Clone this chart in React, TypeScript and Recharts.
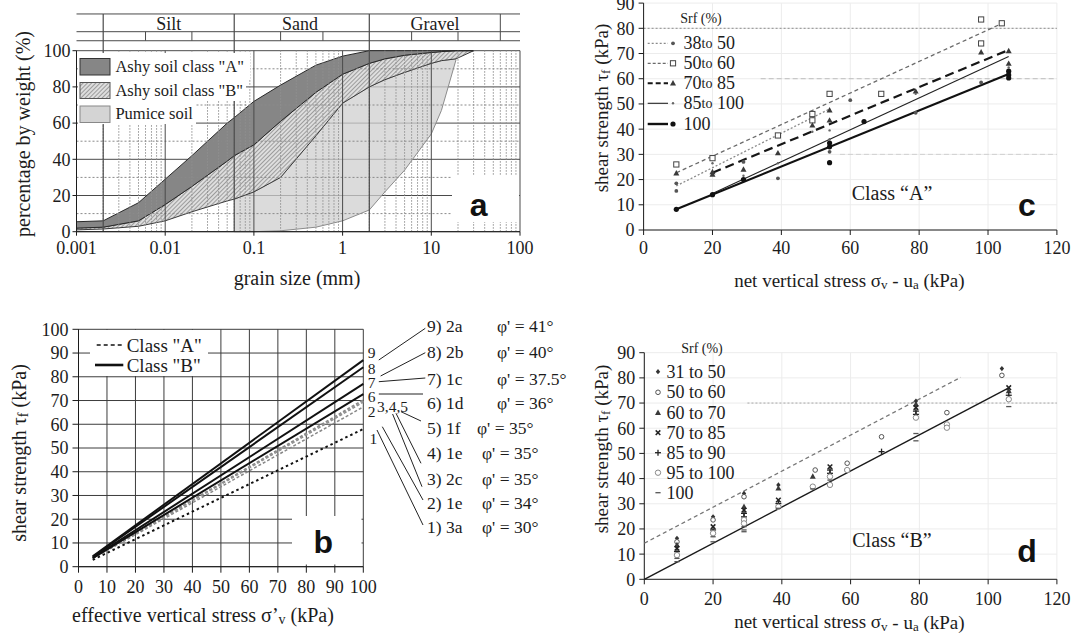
import React from "react";
import {
  ComposedChart,
  LineChart,
  Line,
  Area,
  Scatter,
  XAxis,
  YAxis,
  CartesianGrid,
  ReferenceLine,
  ReferenceDot,
} from "recharts";

const SERIF = '"Liberation Serif", "Times New Roman", serif';
const SANS = '"Liberation Sans", Arial, sans-serif';
const INK = "#1c1c1c";

// ---- (a) grading envelopes, grain size (mm) vs % passing
const GRAIN_MM = [0.001, 0.002, 0.005, 0.01, 0.02, 0.05, 0.06, 0.1, 0.2, 0.5, 1, 2, 3, 5, 10, 13, 19, 30];
const CLASS_A_UPPER = [5.5, 6, 16, 29, 42, 60, 63, 72, 81, 92, 97, 100, 100, 100, 100, 100, 100, 100];
const CLASS_A_LOWER = [2, 2.5, 6, 15, 25, 39, 42, 48, 61, 77, 87, 93, 95.5, 97.5, 99, 99.5, 100, 100];
const CLASS_B_LOWER = [1, 1.5, 3, 6, 11, 17, 18, 22, 30, 53, 71, 80, 84, 88, 93, 94.5, 95.5, 100];
const PUMICE_LOWER = [null, null, null, null, null, null, 0, 0, 0.5, 2.5, 6, 12, 22, 34, 54, 67, 95, null];

const DECADES = [0.001, 0.01, 0.1, 1, 10, 100];
const MINOR_MM = DECADES.slice(0, -1).flatMap((d) => [2, 3, 4, 5, 6, 7, 8, 9].map((k) => k * d));
const PCT_TICKS = [0, 20, 40, 60, 80, 100];
const PCT_MINOR = [10, 30, 50, 70, 90];

const FRACTIONS = ["Silt", "Sand", "Gravel"];
const FRACTION_MID_MM = [0.011, 0.33, 11];
const FRACTION_LIMITS_MM = [0.002, 0.06, 2];
const FRACTION_SUBDIV_MM = [0.006, 0.02, 0.2, 0.6, 6, 20];
// header band sits above the 100 % line
const HEAD_TOP = 120.3;
const HEAD_MID = 110.5;
const HEAD_BASE = 105.5;
const HEAD_TEXT = 115.1;

// ---- (b) failure envelopes
const B_STRESS = [5, 100];
const B_LINE_1 = [2.9, 58];
const B_LINE_2 = [3.4, 67.3];
const B_LINE_3 = [3.5, 69.3];
const B_LINE_4 = [3.5, 69.8];
const B_LINE_5 = [3.5, 70.3];
const B_LINE_6 = [3.6, 72.7];
const B_LINE_7 = [3.8, 77];
const B_LINE_8 = [4.2, 84];
const B_LINE_9 = [4.4, 87];
const B_TICKS = [0, 10, 20, 30, 40, 50, 60, 70, 80, 90, 100];

const B_NOTES = ["9) 2a", "8) 2b", "7) 1c", "6) 1d", "5) 1f", "4) 1e", "3) 2c", "2) 1e", "1) 3a"];
const B_PHI = ["41°", "40°", "37.5°", "36°", "35°", "35°", "35°", "34°", "30°"];

// ---- (c) class A, net vertical stress vs shear strength
const C_SRF_38_50 = [[9.5, 15.5], [9.5, 18.5], [29, 27], [39, 20.5], [54, 31], [60, 51.5], [79, 46.5], [98, 58.5]];
const C_SRF_50_60 = [[9.5, 26], [20, 28.5], [39, 37.5], [49, 46], [49, 43.5], [54, 54], [69, 54], [98, 83.5], [98, 74], [104, 82]];
const C_SRF_70_85 = [[9.5, 22.5], [20, 23], [20, 22], [29, 24], [39, 30.5], [49, 41.5], [54, 47.5], [54, 43.5], [79, 55], [98, 70.5], [106, 71], [106, 66]];
const C_SRF_85_100 = [[20, 26.5], [29, 21.5], [39, 26.5], [49, 39], [54, 39.5], [54, 36], [79, 54], [106, 64.5]];
const C_SRF_100 = [[9.5, 8.2], [20, 14], [29, 20], [54, 34.5], [54, 33], [54, 26.7], [64, 43], [106, 63], [106, 61.5], [106, 60.3]];

const C_FIT_38_50 = [[9.5, 17.5], [54, 48]];
const C_FIT_50_60 = [[9.5, 22.7], [104.5, 82.2]];
const C_FIT_70_85 = [[20, 22.7], [106, 71.4]];
const C_FIT_85_100 = [[20, 14.5], [106, 68.8]];
const C_FIT_100 = [[9.5, 8.2], [106, 61.9]];

// ---- (d) class B
const D_SRF_31_50 = [[9.5, 16.3], [20, 24.8], [29, 34.1], [39, 37.5], [79, 70.8], [104, 83.7]];
const D_SRF_50_60 = [[9.5, 14.9], [20, 23.6], [29, 32.8], [49.7, 43.4], [59, 46.1], [69, 56.6], [88, 66.2], [104, 81]];
const D_SRF_60_70 = [[9.5, 13.6], [29, 28.8], [39, 36.1], [49, 40.8], [79, 69.5], [106, 74.8]];
const D_SRF_70_85 = [[9.5, 12.3], [20, 20.9], [29, 27.5], [39, 31.5], [54, 44.7], [79, 68.2], [106, 76.1]];
const D_SRF_85_90 = [[9.5, 11], [20, 19.6], [29, 26.2], [29, 24.8], [39, 30.1], [54, 43.4], [54, 42.1], [69, 50.7], [79, 66.8], [79, 65.5], [106, 73.1]];
const D_SRF_95_100 = [[9.5, 9.6], [20, 18.3], [29, 23.6], [29, 22.2], [39, 28.8], [49, 36.8], [54, 40.8], [54, 37.5], [59, 43.4], [79, 64.2], [88, 61.5], [88, 60.2], [106, 71.5]];
const D_SRF_100 = [[9.5, 8.3], [9.5, 7], [20, 16.9], [20, 14.9], [29, 20.9], [29, 19.6], [29, 18.9], [39, 28.2], [49, 35.9], [54, 39.4], [79, 57.9], [79, 55], [106, 68.6]];

const D_FIT_LOWER = [[0, 0], [106, 76]];
const D_FIT_UPPER = [[0, 14.3], [92, 80.2]];

const STRESS_TICKS = [0, 20, 40, 60, 80, 100, 120];
const SHEAR_TICKS = [0, 10, 20, 30, 40, 50, 60, 70, 80, 90];

const toXY = (pts) => pts.map(([x, y]) => ({ x, y }));

const gradingRows = GRAIN_MM.map((d, i) => ({
  d,
  classA: [CLASS_A_LOWER[i], CLASS_A_UPPER[i]],
  classB: [CLASS_B_LOWER[i], CLASS_A_LOWER[i]],
  pumice: PUMICE_LOWER[i] === null ? null : [PUMICE_LOWER[i], CLASS_B_LOWER[i]],
}));

const frictionRows = B_STRESS.map((s, i) => ({
  s,
  l1: B_LINE_1[i],
  l2: B_LINE_2[i],
  l3: B_LINE_3[i],
  l4: B_LINE_4[i],
  l5: B_LINE_5[i],
  l6: B_LINE_6[i],
  l7: B_LINE_7[i],
  l8: B_LINE_8[i],
  l9: B_LINE_9[i],
}));

const tickFont = { fontSize: 18, fill: INK, fontFamily: SERIF };

function Marker({ kind, cx, cy }) {
  if (cx == null || cy == null) return <g />;
  switch (kind) {
    case "dot":
      return <circle cx={cx} cy={cy} r={1.9} fill="#555" />;
    case "tiny":
      return <circle cx={cx} cy={cy} r={1.2} fill="#666" />;
    case "disc":
      return <circle cx={cx} cy={cy} r={2.6} fill="#111" />;
    case "square":
      return <rect x={cx - 2.6} y={cy - 2.6} width={5.2} height={5.2} fill="#fff" stroke="#444" strokeWidth={1} />;
    case "triangle":
      return <polygon points={`${cx},${cy - 3.2} ${cx - 3},${cy + 2.2} ${cx + 3},${cy + 2.2}`} fill="#3a3a3a" />;
    case "diamond":
      return <polygon points={`${cx},${cy - 2.6} ${cx - 2.2},${cy} ${cx},${cy + 2.6} ${cx + 2.2},${cy}`} fill="#333" />;
    case "ring":
      return <circle cx={cx} cy={cy} r={2.3} fill="#fff" stroke="#555" strokeWidth={1} />;
    case "ringGray":
      return <circle cx={cx} cy={cy} r={2.7} fill="#fff" stroke="#8a8a8a" strokeWidth={1} />;
    case "ex":
      return (
        <g stroke="#222" strokeWidth={1.5}>
          <line x1={cx - 2.3} y1={cy - 2.3} x2={cx + 2.3} y2={cy + 2.3} />
          <line x1={cx - 2.3} y1={cy + 2.3} x2={cx + 2.3} y2={cy - 2.3} />
        </g>
      );
    case "plus":
      return (
        <g stroke="#222" strokeWidth={1.3}>
          <line x1={cx - 3} y1={cy} x2={cx + 3} y2={cy} />
          <line x1={cx} y1={cy - 3} x2={cx} y2={cy + 3} />
        </g>
      );
    case "dash":
      return <line x1={cx - 2.6} y1={cy} x2={cx + 2.6} y2={cy} stroke="#555" strokeWidth={1.3} />;
    default:
      return <g />;
  }
}

const markerShape = (kind) => (p) => <Marker kind={kind} cx={p.cx} cy={p.cy} />;
const noMarker = () => <g />;

const C_SERIES = [
  { name: "38 to 50", pts: C_SRF_38_50, marker: "dot" },
  { name: "50 to 60", pts: C_SRF_50_60, marker: "square" },
  { name: "70 to 85", pts: C_SRF_70_85, marker: "triangle" },
  { name: "85 to 100", pts: C_SRF_85_100, marker: "tiny" },
  { name: "100", pts: C_SRF_100, marker: "disc" },
];
const C_FITS = [
  { pts: C_FIT_38_50, stroke: "#8a8a8a", width: 1.3, dash: "2 2" },
  { pts: C_FIT_50_60, stroke: "#6a6a6a", width: 1.3, dash: "4 3" },
  { pts: C_FIT_70_85, stroke: "#161616", width: 2.2, dash: "9 5" },
  { pts: C_FIT_85_100, stroke: "#222", width: 1.1, dash: undefined },
  { pts: C_FIT_100, stroke: "#111", width: 2.2, dash: undefined },
];
const D_SERIES = [
  { name: "31 to 50", pts: D_SRF_31_50, marker: "diamond" },
  { name: "50 to 60", pts: D_SRF_50_60, marker: "ring" },
  { name: "60 to 70", pts: D_SRF_60_70, marker: "triangle" },
  { name: "70 to 85", pts: D_SRF_70_85, marker: "ex" },
  { name: "85 to 90", pts: D_SRF_85_90, marker: "plus" },
  { name: "95 to 100", pts: D_SRF_95_100, marker: "ringGray" },
  { name: "100", pts: D_SRF_100, marker: "dash" },
];
const D_FITS = [
  { pts: D_FIT_LOWER, stroke: "#1a1a1a", width: 1.4, dash: undefined },
  { pts: D_FIT_UPPER, stroke: "#777", width: 1.3, dash: "4 3" },
];

function GradingChart() {
  const grid = "#4a4a4a";
  return (
    <ComposedChart width={540} height={300} data={gradingRows} margin={{ top: 50.7, right: 20, bottom: 38.3, left: 16.5 }}>
      <defs>
        <pattern id="hatchB" width="3" height="3" patternUnits="userSpaceOnUse" patternTransform="rotate(45)">
          <rect width="3" height="3" fill="#dedede" />
          <line x1="0" y1="0" x2="0" y2="3" stroke="#707070" strokeWidth="1.2" />
        </pattern>
      </defs>
      <CartesianGrid vertical={false} stroke={grid} />
      <XAxis
        dataKey="d"
        type="number"
        scale="log"
        domain={[0.001, 100]}
        allowDataOverflow
        ticks={DECADES}
        interval={0}
        tickFormatter={(v) => String(v)}
        height={30}
        tickSize={4}
        tickMargin={6}
        tick={tickFont}
        stroke={INK}
      />
      <YAxis type="number" domain={[0, 100]} ticks={PCT_TICKS} interval={0} width={60} tickSize={4} tick={tickFont} stroke={INK} />
      {PCT_MINOR.map((y) => (
        <ReferenceLine key={`h${y}`} y={y} stroke="#8a8a8a" strokeDasharray="2 2" />
      ))}
      {MINOR_MM.map((x) => (
        <ReferenceLine key={`m${x}`} x={x} stroke="#909090" strokeDasharray="1.5 1.5" />
      ))}
      {DECADES.map((x) => (
        <ReferenceLine key={`d${x}`} x={x} stroke={grid} />
      ))}
      <Area type="linear" dataKey="pumice" stroke="#8c8c8c" strokeWidth={1} fill="#cfcfcf" fillOpacity={0.75} isAnimationActive={false} />
      <Area type="linear" dataKey="classB" stroke="#3a3a3a" strokeWidth={1} fill="url(#hatchB)" fillOpacity={1} isAnimationActive={false} />
      <Area type="linear" dataKey="classA" stroke="#2a2a2a" strokeWidth={1} fill="#868686" fillOpacity={1} isAnimationActive={false} />
      {FRACTION_LIMITS_MM.map((x) => (
        <ReferenceLine key={`fl${x}`} segment={[{ x, y: 0 }, { x, y: HEAD_TOP }]} stroke={grid} strokeWidth={1.2} ifOverflow="visible" />
      ))}
      <ReferenceLine segment={[{ x: 60, y: HEAD_BASE }, { x: 60, y: HEAD_TOP }]} stroke={grid} ifOverflow="visible" />
      {FRACTION_SUBDIV_MM.map((x) => (
        <ReferenceLine key={`fs${x}`} segment={[{ x, y: HEAD_BASE }, { x, y: HEAD_MID }]} stroke={grid} ifOverflow="visible" />
      ))}
      {[HEAD_TOP, HEAD_MID, HEAD_BASE].map((y) => (
        <ReferenceLine key={`hl${y}`} segment={[{ x: 0.001, y }, { x: 100, y }]} stroke={grid} ifOverflow="visible" />
      ))}
      {FRACTIONS.map((t, i) => (
        <ReferenceDot
          key={t}
          x={FRACTION_MID_MM[i]}
          y={HEAD_TEXT}
          r={0}
          fill="none"
          stroke="none"
          ifOverflow="visible"
          label={{ value: t, position: "center", fontSize: 18, fill: INK, fontFamily: SERIF }}
        />
      ))}
    </ComposedChart>
  );
}

const B_STYLES = [
  { key: "l1", stroke: "#111", width: 2, dash: "2.5 3" },
  { key: "l2", stroke: "#888", width: 1.5, dash: "3 2" },
  { key: "l3", stroke: "#8a8a8a", width: 1.5, dash: "3 2" },
  { key: "l4", stroke: "#999", width: 1.5, dash: "3 2" },
  { key: "l5", stroke: "#8a8a8a", width: 1.5, dash: "3 2" },
  { key: "l6", stroke: "#111", width: 2, dash: undefined },
  { key: "l7", stroke: "#111", width: 2, dash: undefined },
  { key: "l8", stroke: "#111", width: 2, dash: undefined },
  { key: "l9", stroke: "#111", width: 2, dash: undefined },
];

function FrictionChart() {
  return (
    <LineChart width={380} height={335} data={frictionRows} margin={{ top: 29.3, right: 16.7, bottom: 38.3, left: 18.5 }}>
      <CartesianGrid stroke="#3c3c3c" />
      <XAxis dataKey="s" type="number" domain={[0, 100]} ticks={B_TICKS} interval={0} height={30} tickSize={6} tickMargin={8} tick={tickFont} stroke={INK} />
      <YAxis type="number" domain={[0, 100]} ticks={B_TICKS} interval={0} width={60} tickSize={6} tickMargin={4} tick={tickFont} stroke={INK} />
      {B_STYLES.map((s) => (
        <Line
          key={s.key}
          type="linear"
          dataKey={s.key}
          stroke={s.stroke}
          strokeWidth={s.width}
          strokeDasharray={s.dash}
          dot={false}
          isAnimationActive={false}
        />
      ))}
    </LineChart>
  );
}

function ShearChart({ height, top, bottom, left, yMax, xTickMargin, series, fits, children }) {
  return (
    <ComposedChart width={536} height={height} margin={{ top, right: 19.1, bottom, left }}>
      <CartesianGrid stroke="#ececec" />
      <XAxis
        dataKey="x"
        type="number"
        domain={[0, 120]}
        ticks={STRESS_TICKS}
        interval={0}
        height={30}
        tickSize={5}
        tickMargin={xTickMargin}
        tick={tickFont}
        stroke={INK}
      />
      <YAxis dataKey="y" type="number" domain={[0, yMax]} ticks={SHEAR_TICKS} interval={0} width={40} tickSize={5} tickMargin={4} tick={tickFont} stroke={INK} />
      {children}
      {fits.map((f, i) => (
        <Scatter
          key={`fit${i}`}
          data={toXY(f.pts)}
          shape={noMarker}
          line={{ stroke: f.stroke, strokeWidth: f.width, strokeDasharray: f.dash }}
          legendType="none"
          isAnimationActive={false}
        />
      ))}
      {series.map((s) => (
        <Scatter key={s.name} name={s.name} data={toXY(s.pts)} shape={markerShape(s.marker)} isAnimationActive={false} />
      ))}
    </ComposedChart>
  );
}

const B_ROW_Y = [326, 351.7, 379.3, 403.3, 428.3, 453.3, 479.3, 503.3, 527.3];
const B_PHI_X = [497, 497, 497, 497, 477, 482, 482, 482, 482];
const B_LEADERS = [
  [378.8, 360, 425.3, 328.3],
  [380.6, 376, 425.3, 352.7],
  [378.8, 381.7, 425.3, 378],
  [378.8, 394, 423, 394],
  [401, 411.7, 421, 421],
  [396, 413.3, 421, 463.3],
  [392.6, 414, 422, 486.7],
  [382.3, 426.7, 423, 500],
  [377, 430, 423, 525],
];

const C_LEGEND = [
  { a: "38", b: "50", stroke: "#8a8a8a", width: 1.3, dash: "2 2", marker: "dot" },
  { a: "50", b: "60", stroke: "#6a6a6a", width: 1.3, dash: "3 2", marker: "square" },
  { a: "70", b: "85", stroke: "#161616", width: 2, dash: "5 3", marker: "triangle" },
  { a: "85", b: "100", stroke: "#222", width: 1.1, dash: undefined, marker: "tiny" },
  { a: "100", b: null, stroke: "#111", width: 2.4, dash: undefined, marker: "disc" },
];
const C_LEGEND_Y = [43.3, 63.3, 83.3, 103.3, 124];
const D_LEGEND_Y = [371.7, 392.3, 412.7, 432.7, 452.7, 472.7, 492.7];

function Overlay() {
  const t = { fontFamily: SERIF, fill: INK, dominantBaseline: "central" as const };
  return (
    <svg width={1076} height={635} style={{ position: "absolute", left: 0, top: 0, pointerEvents: "none" }}>
      <defs>
        <pattern id="hatchKey" width="3" height="3" patternUnits="userSpaceOnUse" patternTransform="rotate(45)">
          <rect width="3" height="3" fill="#dedede" />
          <line x1="0" y1="0" x2="0" y2="3" stroke="#707070" strokeWidth="1.2" />
        </pattern>
      </defs>

      {/* (a) */}
      <text {...t} fontSize={20} textAnchor="middle" transform="translate(23.4,134) rotate(-90)">
        percentage by weight (%)
      </text>
      <text {...t} fontSize={20} textAnchor="middle" x={297} y={278.3}>
        grain size (mm)
      </text>
      <rect x={78} y={53} width={172} height={26} fill="#fff" />
      <rect x={78} y={79} width={168} height={22} fill="#fff" />
      <rect x={78} y={101} width={118} height={23} fill="#fff" />
      <rect x={80} y={58.5} width={30} height={16.5} fill="#868686" stroke="#333" />
      <rect x={80} y={82.5} width={30} height={16} fill="url(#hatchKey)" stroke="#555" />
      <rect x={80} y={106} width={30} height={16.5} fill="#d4d4d4" stroke="#888" />
      <text {...t} fontSize={16.5} x={115.4} y={66.7}>Ashy soil class "A"</text>
      <text {...t} fontSize={16.5} x={115.4} y={90.7}>Ashy soil class "B"</text>
      <text {...t} fontSize={16.5} x={115.4} y={113.3}>Pumice soil</text>
      <rect x={452} y={176} width={67} height={46} fill="#fff" />
      <text x={478.7} y={205} textAnchor="middle" dominantBaseline="central" fontFamily={SANS} fontWeight="bold" fontSize={32} fill="#111">
        a
      </text>

      {/* (b) */}
      <text {...t} fontSize={20} textAnchor="middle" transform="translate(19,453) rotate(-90)">
        shear strength  τ<tspan fontSize={14} dy={4}>f</tspan>
        <tspan dy={-4}> (kPa)</tspan>
      </text>
      <text {...t} fontSize={20} textAnchor="middle" x={203} y={615}>
        effective vertical stress σ’<tspan fontSize={14} dy={4}>v</tspan>
        <tspan dy={-4}> (kPa)</tspan>
      </text>
      <rect x={90} y={330} width={118} height={46} fill="#fff" />
      <line x1={96.7} y1={345} x2={123.3} y2={345} stroke="#111" strokeWidth={1.6} strokeDasharray="4 3" />
      <text {...t} fontSize={19} x={126.7} y={345}>Class "A"</text>
      <line x1={95} y1={365} x2={123.3} y2={365} stroke="#111" strokeWidth={2.6} />
      <text {...t} fontSize={19} x={126.7} y={365}>Class "B"</text>
      <rect x={292} y={516} width={69.5} height={48.5} fill="#fff" />
      <text x={323.3} y={541.7} textAnchor="middle" dominantBaseline="central" fontFamily={SANS} fontWeight="bold" fontSize={32} fill="#111">
        b
      </text>
      <text {...t} fontSize={15.5} textAnchor="middle" x={371.7} y={352}>9</text>
      <text {...t} fontSize={15.5} textAnchor="middle" x={371.7} y={368}>8</text>
      <text {...t} fontSize={15.5} textAnchor="middle" x={371.7} y={382}>7</text>
      <text {...t} fontSize={15.5} textAnchor="middle" x={371.7} y={396.5}>6</text>
      <text {...t} fontSize={15.5} textAnchor="middle" x={371.7} y={411.5}>2</text>
      <text {...t} fontSize={15.5} x={377} y={406.5}>3,4,5</text>
      <text {...t} fontSize={15.5} textAnchor="middle" x={373.3} y={438.3}>1</text>
      {B_LEADERS.map(([x1, y1, x2, y2], i) => (
        <line key={`ld${i}`} x1={x1} y1={y1} x2={x2} y2={y2} stroke="#222" strokeWidth={1} />
      ))}
      {B_NOTES.map((n, i) => (
        <g key={n + i}>
          <text {...t} fontSize={17.5} x={427} y={B_ROW_Y[i]}>{n}</text>
          <text {...t} fontSize={17.5} x={B_PHI_X[i]} y={B_ROW_Y[i]}>φ' = {B_PHI[i]}</text>
        </g>
      ))}

      {/* (c) */}
      <text {...t} fontSize={19} textAnchor="middle" transform="translate(601,108) rotate(-90)">
        shear strength τ<tspan fontSize={13} dy={4}>f</tspan>
        <tspan dy={-4}> (kPa)</tspan>
      </text>
      <text {...t} fontSize={19} textAnchor="middle" x={849.4} y={280}>
        net vertical stress σ<tspan fontSize={13} dy={4}>v</tspan>
        <tspan dy={-4}> - u</tspan>
        <tspan fontSize={13} dy={4}>a</tspan>
        <tspan dy={-4}> (kPa)</tspan>
      </text>
      <text {...t} fontSize={14} textAnchor="middle" x={701} y={18.3}>Srf (%)</text>
      {C_LEGEND.map((r, i) => (
        <g key={`cl${i}`}>
          <line x1={647.7} y1={C_LEGEND_Y[i]} x2={668} y2={C_LEGEND_Y[i]} stroke={r.stroke} strokeWidth={r.width} strokeDasharray={r.dash} />
          <Marker kind={r.marker} cx={673} cy={C_LEGEND_Y[i]} />
          <text {...t} fontSize={18} x={683.6} y={C_LEGEND_Y[i]}>
            {r.a}
            {r.b ? (
              <>
                <tspan fontSize={14}>to</tspan> {r.b}
              </>
            ) : null}
          </text>
        </g>
      ))}
      <text {...t} fontSize={20} textAnchor="middle" x={892} y={193.3}>Class “A”</text>
      <text x={1027} y={205} textAnchor="middle" dominantBaseline="central" fontFamily={SANS} fontWeight="bold" fontSize={32} fill="#111">
        c
      </text>

      {/* (d) */}
      <text {...t} fontSize={19} textAnchor="middle" transform="translate(601,449) rotate(-90)">
        shear strength τ<tspan fontSize={13} dy={4}>f</tspan>
        <tspan dy={-4}> (kPa)</tspan>
      </text>
      <text {...t} fontSize={19} textAnchor="middle" x={849.4} y={621.7}>
        net vertical stress σ<tspan fontSize={13} dy={4}>v</tspan>
        <tspan dy={-4}> - u</tspan>
        <tspan fontSize={13} dy={4}>a</tspan>
        <tspan dy={-4}> (kPa)</tspan>
      </text>
      <text {...t} fontSize={14} textAnchor="middle" x={702} y={348.3}>Srf (%)</text>
      {D_SERIES.map((s, i) => (
        <g key={`dl${i}`}>
          <Marker kind={s.marker} cx={658} cy={D_LEGEND_Y[i]} />
          <text {...t} fontSize={18} x={666.5} y={D_LEGEND_Y[i]}>{s.name}</text>
        </g>
      ))}
      <text {...t} fontSize={20} textAnchor="middle" x={892} y={540}>Class “B”</text>
      <text x={1027} y={550.7} textAnchor="middle" dominantBaseline="central" fontFamily={SANS} fontWeight="bold" fontSize={32} fill="#111">
        d
      </text>
    </svg>
  );
}

export default function App() {
  return (
    <div style={{ position: "absolute", left: 0, top: 0, width: 1076, height: 635, background: "#fff", overflow: "hidden", fontFamily: SERIF }}>
      <div style={{ position: "absolute", left: 0, top: 0 }}>
        <GradingChart />
      </div>
      <div style={{ position: "absolute", left: 0, top: 300 }}>
        <FrictionChart />
      </div>
      <div style={{ position: "absolute", left: 540, top: 0 }}>
        <ShearChart height={300} top={3.1} bottom={40} left={63.6} yMax={90} xTickMargin={6} series={C_SERIES} fits={C_FITS}>
          <ReferenceLine y={80} stroke="#8c8c8c" strokeDasharray="2 2" />
          <ReferenceLine segment={[{ x: 34, y: 60 }, { x: 120, y: 60 }]} stroke="#bdbdbd" strokeDasharray="5 3" />
          <ReferenceLine segment={[{ x: 57, y: 30 }, { x: 120, y: 30 }]} stroke="#d0d0d0" strokeDasharray="5 3" />
        </ShearChart>
      </div>
      <div style={{ position: "absolute", left: 540, top: 300 }}>
        <ShearChart height={335} top={52.7} bottom={25.7} left={64.3} yMax={90} xTickMargin={8} series={D_SERIES} fits={D_FITS}>
          <ReferenceLine segment={[{ x: 30, y: 70 }, { x: 120, y: 70 }]} stroke="#a8a8a8" strokeDasharray="2 2" />
        </ShearChart>
      </div>
      <Overlay />
    </div>
  );
}
